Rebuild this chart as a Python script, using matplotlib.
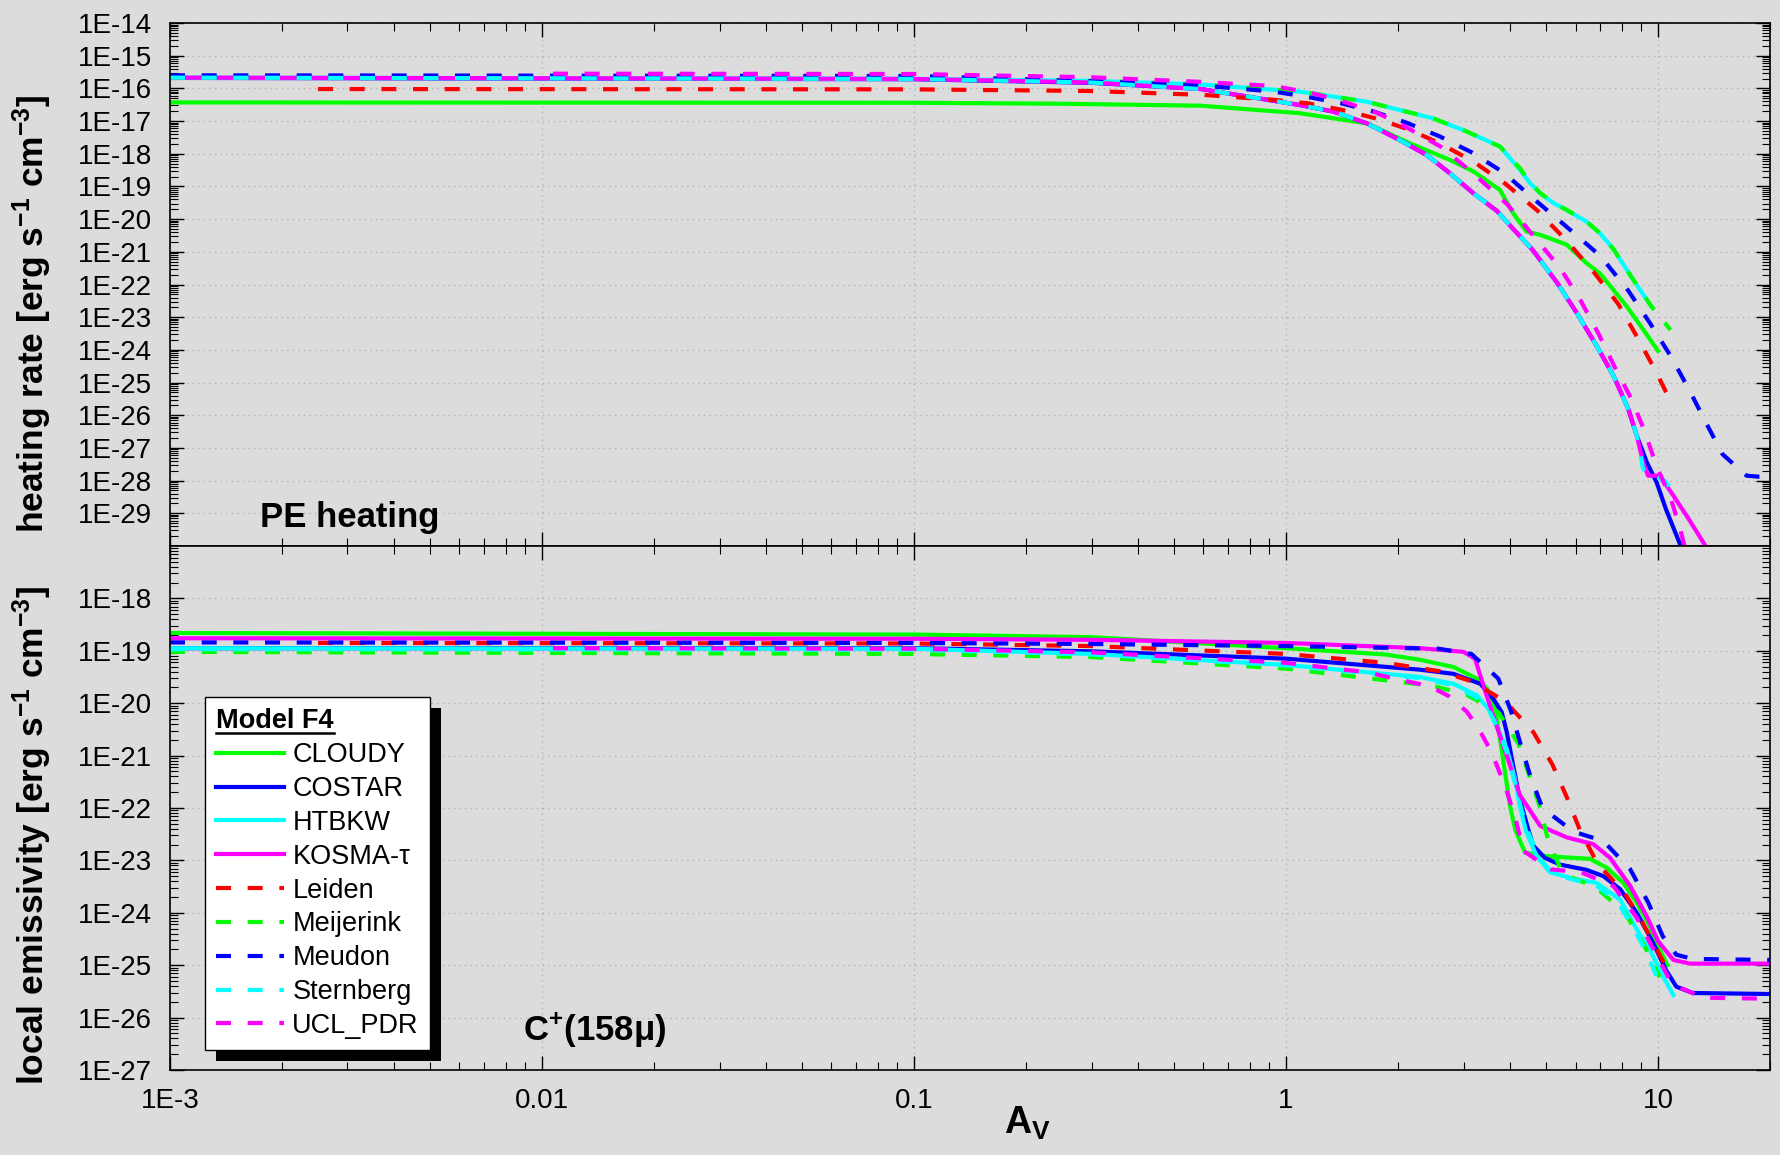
import matplotlib
matplotlib.use("Agg")
import matplotlib.pyplot as plt
import numpy as np
from matplotlib.patches import Rectangle
from matplotlib.lines import Line2D
from matplotlib.transforms import IdentityTransform
from matplotlib.ticker import FixedLocator, LogLocator, FuncFormatter, NullFormatter

plt.rcParams["font.family"] = ["Liberation Sans", "DejaVu Sans"]
plt.rcParams["mathtext.fontset"] = "custom"
plt.rcParams["mathtext.rm"] = "Liberation Sans"
plt.rcParams["mathtext.bf"] = "Liberation Sans:bold"
plt.rcParams["mathtext.it"] = "Liberation Sans:italic"

# --- data: A_V and log10(value) ---------------------------------------------
models = ["CLOUDY", "COSTAR", "HTBKW", "KOSMA-τ", "Leiden",
          "Meijerink", "Meudon", "Sternberg", "UCL_PDR"]
colors = ["#00ff00", "#0000ff", "#00ffff", "#ff00ff", "#ff0000",
          "#00ff00", "#0000ff", "#00ffff", "#ff00ff"]
dashed = [False, False, False, False, True, True, True, True, True]

# PE heating rate [erg s^-1 cm^-3]
cloudy_heat_av = [0.001, 0.1, 0.25, 0.59, 1.09, 1.65, 2.15, 2.76, 3.2, 3.76, 4.08,
                  4.43, 4.82, 5.68, 6.43, 6.98, 8.24, 9.14, 10.0]
cloudy_heat = [-16.43, -16.44, -16.47, -16.53, -16.76, -17.07, -17.68, -18.19, -18.55,
               -19.11, -19.82, -20.38, -20.48, -20.78, -21.35, -21.66, -22.67, -23.39, -24.03]

costar_heat_av = [0.001, 0.1, 0.3, 0.59, 1.09, 1.34, 1.65, 2.02, 2.39, 2.76, 3.19, 3.69,
                  4.08, 4.6, 5.35, 6.04, 6.84, 7.59, 8.32, 8.77, 9.33, 9.92, 10.5, 11.5, 11.8]
costar_heat = [-15.68, -15.72, -15.83, -16.02, -16.51, -16.71, -17.07, -17.58, -18.04, -18.6,
               -19.21, -19.75, -20.3, -20.94, -21.94, -22.86, -23.88, -24.79, -25.81, -26.63,
               -27.44, -28.06, -28.87, -29.99, -30.3]

htbkw_heat_av = [0.001, 0.1, 0.3, 0.59, 1.09, 1.34, 1.65, 2.02, 2.49, 3.06, 3.76, 4.26,
                 4.53, 4.82, 5.24, 5.68, 6.43, 6.98, 7.59, 8.7, 9.6]
htbkw_heat = [-15.67, -15.71, -15.77, -15.88, -16.10, -16.25, -16.41, -16.66, -16.92, -17.32,
              -17.78, -18.5, -18.9, -19.21, -19.51, -19.72, -20.08, -20.43, -20.92, -21.96, -22.67]

kosma_heat_av = [0.001, 0.1, 0.3, 0.59, 1.09, 1.34, 1.65, 2.02, 2.39, 2.76, 3.19, 3.69,
                 4.08, 4.6, 5.35, 6.04, 6.84, 7.59, 8.32, 8.77, 9.12, 9.4, 10.1, 11.0, 12.1,
                 13.4, 13.8]
kosma_heat = [-15.67, -15.71, -15.82, -16.02, -16.51, -16.71, -17.07, -17.58, -18.04, -18.6,
              -19.21, -19.75, -20.3, -20.94, -21.94, -22.86, -23.88, -24.79, -25.81, -26.63,
              -27.44, -27.85, -27.85, -28.46, -29.18, -29.99, -30.3]

leiden_heat_av = [0.0025, 0.1, 0.3, 0.6, 0.93, 1.15, 1.42, 1.73, 2.13, 2.59, 3.19, 3.89,
                  4.74, 5.71, 6.75, 7.82, 8.85, 9.88, 10.9]
leiden_heat = [-16.02, -16.03, -16.08, -16.2, -16.35, -16.46, -16.66, -16.91, -17.25, -17.68,
               -18.24, -18.92, -19.74, -20.69, -21.65, -22.60, -23.67, -24.67, -25.66]

meijerink_heat_av = [0.001, 0.1, 0.3, 0.59, 1.09, 1.34, 1.65, 2.02, 2.49, 3.06, 3.76, 4.26,
                     4.53, 4.82, 5.24, 5.68, 6.43, 6.98, 7.59, 8.7, 9.6, 10.2, 10.8]
meijerink_heat = [-15.66, -15.70, -15.77, -15.88, -16.10, -16.25, -16.41, -16.66, -16.92,
                  -17.32, -17.78, -18.45, -18.88, -19.2, -19.5, -19.72, -20.08, -20.43, -20.92,
                  -21.96, -22.67, -23.03, -23.39]

meudon_heat_av = [0.001, 0.1, 0.3, 0.59, 0.93, 1.14, 1.40, 1.72, 2.11, 2.59, 3.16, 3.84,
                  4.70, 5.74, 6.99, 8.32, 9.55, 10.8, 12.1, 13.4, 14.9, 17.3, 18.7, 20.0]
meudon_heat = [-15.60, -15.62, -15.78, -15.91, -16.10, -16.26, -16.45, -16.71, -17.05, -17.47,
               -17.96, -18.57, -19.44, -20.28, -21.12, -22.19, -23.21, -24.18, -25.2, -26.19,
               -27.19, -27.85, -27.88, -27.88]

sternberg_heat_av = [0.001, 0.1, 0.3, 0.59, 1.09, 1.34, 1.65, 2.02, 2.39, 2.76, 3.19, 3.69,
                     4.08, 4.6, 5.35, 6.04, 6.84, 7.59, 8.32, 8.77, 8.96, 9.1, 9.3, 9.8, 10.4,
                     11.1]
sternberg_heat = [-15.67, -15.71, -15.82, -16.02, -16.51, -16.71, -17.07, -17.58, -18.04, -18.6,
                  -19.21, -19.75, -20.3, -20.94, -21.94, -22.86, -23.88, -24.79, -25.81,
                  -26.63, -27.16, -27.6, -27.85, -27.87, -28.0, -28.35]

ucl_heat_av = [0.0107, 0.1, 0.3, 0.59, 0.93, 1.16, 1.43, 1.75, 2.13, 2.62, 3.2, 3.92, 4.64,
               5.46, 6.2, 6.93, 7.66, 8.49, 9.22, 9.9, 10.8, 11.5, 11.9]
ucl_heat = [-15.55, -15.56, -15.66, -15.80, -15.93, -16.13, -16.41, -16.74, -17.22, -17.80,
            -18.62, -19.53, -20.53, -21.5, -22.5, -23.52, -24.54, -25.51, -26.51, -27.55,
            -28.51, -29.53, -30.2]

# C+ 158 micron local emissivity [erg s^-1 cm^-3]
cloudy_em_av = [0.001, 0.1, 0.3, 1.0, 1.85, 2.29, 2.82, 3.26, 3.47, 3.65, 3.76, 3.88, 4.0,
                4.13, 4.39, 5.02, 6.56, 7.28, 8.07, 8.77, 9.51, 10.0, 10.6]
cloudy_em = [-18.66, -18.69, -18.74, -18.95, -19.07, -19.17, -19.31, -19.53, -19.72, -20.11,
             -20.68, -21.32, -21.96, -22.41, -22.85, -22.92, -22.97, -23.14, -23.43, -23.81,
             -24.26, -24.64, -25.0]

costar_em_av = [0.001, 0.1, 0.3, 1.0, 2.29, 2.82, 3.33, 3.61, 3.80, 3.92, 4.08, 4.25, 4.48,
                4.62, 4.96, 5.45, 6.42, 7.13, 7.91, 8.77, 9.71, 10.5, 11.2, 12.4, 20.0]
costar_em = [-18.95, -18.95, -19.01, -19.15, -19.36, -19.44, -19.63, -19.92, -20.17, -20.55,
             -21.19, -21.83, -22.41, -22.72, -22.95, -23.08, -23.18, -23.30, -23.55, -24.0,
             -24.58, -25.09, -25.41, -25.53, -25.55]

htbkw_em_av = [0.001, 0.1, 0.3, 1.0, 2.29, 2.82, 3.26, 3.50, 3.68, 3.92, 4.13, 4.25, 4.42,
               4.72, 5.13, 6.04, 6.84, 7.91, 8.77, 9.51, 10.2, 11.0]
htbkw_em = [-18.95, -18.96, -19.06, -19.27, -19.50, -19.63, -19.85, -20.11, -20.43, -20.87,
            -21.45, -21.96, -22.45, -22.92, -23.23, -23.36, -23.43, -23.75, -24.32, -24.70,
            -25.15, -25.57]

kosma_em_av = [0.001, 0.1, 0.3, 1.0, 2.29, 3.0, 3.22, 3.46, 3.68, 3.92, 4.25, 4.82, 5.68,
               6.7, 7.43, 8.42, 9.33, 10.0, 11.0, 12.2, 20.0]
kosma_em = [-18.76, -18.77, -18.79, -18.85, -18.95, -19.02, -19.15, -19.85, -20.43, -21.0,
            -21.75, -22.34, -22.56, -22.69, -22.95, -23.49, -24.07, -24.54, -24.9, -24.97,
            -24.97]

leiden_em_av = [0.0025, 0.1, 0.3, 1.0, 1.85, 2.59, 3.15, 3.89, 4.62, 5.2, 5.69, 6.15, 6.87,
                8.15, 9.14, 10.2, 10.6]
leiden_em = [-18.85, -18.86, -18.91, -19.06, -19.23, -19.39, -19.58, -19.97, -20.55, -21.17,
             -21.80, -22.4, -23.06, -23.63, -24.22, -24.86, -25.1]

meijerink_em_av = [0.001, 0.1, 0.3, 1.0, 2.49, 3.06, 3.72, 4.22, 4.8, 5.07, 5.56, 6.77,
                   8.15, 9.16, 10.1]
meijerink_em = [-19.02, -19.06, -19.12, -19.34, -19.67, -19.84, -20.17, -20.78, -21.95,
                -22.63, -23.27, -23.50, -24.0, -24.61, -25.23]

meudon_em_av = [0.001, 0.1, 0.3, 1.0, 2.57, 3.15, 3.72, 4.02, 4.27, 4.55, 4.89, 5.92, 7.13,
                8.42, 9.42, 10.3, 11.2, 12.4, 20.0]
meudon_em = [-18.84, -18.85, -18.87, -18.91, -18.96, -19.06, -19.53, -20.14, -20.78, -21.42,
             -22.0, -22.45, -22.63, -23.17, -23.81, -24.45, -24.8, -24.88, -24.9]

sternberg_em_av = [0.001, 0.1, 0.3, 1.0, 2.29, 2.82, 3.26, 3.55, 3.75, 3.95, 4.15, 4.3, 4.5,
                   4.8, 5.2, 6.0, 6.8, 7.8, 8.6, 9.3, 9.9]
sternberg_em = [-18.97, -18.98, -19.07, -19.28, -19.52, -19.66, -19.9, -20.2, -20.55, -21.0,
                -21.6, -22.05, -22.5, -22.95, -23.25, -23.38, -23.47, -23.8, -24.3, -24.75,
                -25.2]

ucl_em_av = [0.0107, 0.1, 0.3, 1.0, 1.65, 2.44, 2.73, 3.06, 3.28, 3.57, 3.88, 4.13, 4.35,
             5.14, 6.23, 7.59, 8.74, 10.9, 13.2, 20.0]
ucl_em = [-18.95, -18.96, -19.03, -19.23, -19.41, -19.68, -19.86, -20.16, -20.46, -20.94,
          -21.58, -22.18, -22.82, -23.17, -23.23, -23.49, -24.08, -25.36, -25.62, -25.64]

heat_series = [(cloudy_heat_av, cloudy_heat), (costar_heat_av, costar_heat),
               (htbkw_heat_av, htbkw_heat), (kosma_heat_av, kosma_heat),
               (leiden_heat_av, leiden_heat), (meijerink_heat_av, meijerink_heat),
               (meudon_heat_av, meudon_heat), (sternberg_heat_av, sternberg_heat),
               (ucl_heat_av, ucl_heat)]
em_series = [(cloudy_em_av, cloudy_em), (costar_em_av, costar_em),
             (htbkw_em_av, htbkw_em), (kosma_em_av, kosma_em),
             (leiden_em_av, leiden_em), (meijerink_em_av, meijerink_em),
             (meudon_em_av, meudon_em), (sternberg_em_av, sternberg_em),
             (ucl_em_av, ucl_em)]

heat_ticks = [10.0 ** e for e in range(-29, -13)]
em_ticks = [10.0 ** e for e in range(-27, -17)]
av_ticks = [1e-3, 1e-2, 1e-1, 1, 10]
av_labels = ["1E-3", "0.01", "0.1", "1", "10"]

# --- figure -----------------------------------------------------------------
bg = "#dcdcdc"
fig = plt.figure(figsize=(17.8, 11.55), dpi=100, facecolor=bg)
ax1 = fig.add_axes([0.09551, 0.52727, 0.89888, 0.45281])
ax2 = fig.add_axes([0.09551, 0.07359, 0.89888, 0.45368])

dash = (0, (3.6, 4.0))
for ax, series in ((ax1, heat_series), (ax2, em_series)):
    for name, col, dsh, (av, val) in zip(models, colors, dashed, series):
        ax.plot(av, 10.0 ** np.array(val), color=col, lw=3,
                linestyle=dash if dsh else "-", label=name)

ylab = FuncFormatter(lambda v, pos: "1E%d" % round(np.log10(v)))
for ax, yt in ((ax1, heat_ticks), (ax2, em_ticks)):
    # scales first: setting a scale resets the locators
    ax.set_xscale("log")
    ax.set_yscale("log")
    ax.set_xlim(1e-3, 20)
    ax.set_facecolor(bg)
    ax.xaxis.set_major_locator(FixedLocator(av_ticks))
    ax.yaxis.set_major_locator(FixedLocator(yt))
    ax.xaxis.set_minor_locator(LogLocator(base=10, subs=np.arange(2, 10), numticks=100))
    ax.yaxis.set_minor_locator(LogLocator(base=10, subs=np.arange(2, 10), numticks=100))
    ax.xaxis.set_minor_formatter(NullFormatter())
    ax.yaxis.set_minor_formatter(NullFormatter())
    ax.yaxis.set_major_formatter(ylab)
    ax.tick_params(which="both", direction="in", top=True, right=True,
                   labelsize=20, pad=13)
    ax.tick_params(which="major", length=10, width=1)
    ax.tick_params(which="minor", length=5.5, width=0.8)
    ax.grid(True, which="major", color="#b4b4b4", linestyle=(0, (1, 3)), linewidth=1)
    for sp in ax.spines.values():
        sp.set_linewidth(1.2)

ax1.set_ylim(1e-30, 1e-14)
ax2.set_ylim(1e-27, 1e-17)
ax1.xaxis.set_major_formatter(NullFormatter())
ax2.xaxis.set_major_formatter(FuncFormatter(lambda v, pos: av_labels[pos]))

ax1.set_ylabel(r"heating rate [erg s$^{\mathbf{-1}}$ cm$^{\mathbf{-3}}$]",
               fontsize=25.5, fontweight="bold")
ax2.set_ylabel(r"local emissivity [erg s$^{\mathbf{-1}}$ cm$^{\mathbf{-3}}$]",
               fontsize=25.5, fontweight="bold")
ax1.yaxis.set_label_coords(-0.0725, 0.444)
ax2.yaxis.set_label_coords(-0.0725, 0.447)
ax2.set_xlabel(r"$\mathbf{A}_{\mathbf{V}}$", fontsize=27)
ax2.xaxis.set_label_coords(0.536, -0.066)

ax1.text(0.056, 0.036, "PE heating", transform=ax1.transAxes, fontsize=25,
         fontweight="bold", va="baseline")
ax2.text(0.2206, 0.057, r"C$^{\mathbf{+}}$(158μ)", transform=ax2.transAxes,
         fontsize=25, fontweight="bold", va="baseline")

handles, labels = ax2.get_legend_handles_labels()
leg = ax2.legend(handles, labels, loc="upper left", bbox_to_anchor=(0.0219, 0.712),
                 borderaxespad=0, title="Model F4",
                 title_fontproperties={"weight": "bold", "size": 19.5},
                 fontsize=19.5, fancybox=False, edgecolor="black", facecolor="white",
                 framealpha=1, handlelength=2.5, handletextpad=0.3,
                 labelspacing=0.29, borderpad=0.42, alignment="left")
leg.get_frame().set_linewidth(1.0)

# black drop shadow and underlined title, placed from the drawn legend
fig.canvas.draw()
renderer = fig.canvas.get_renderer()
fb = leg.get_frame().get_window_extent(renderer)
shadow = Rectangle((fb.x0 + 11, fb.y0 - 11), fb.width, fb.height,
                   transform=IdentityTransform(), facecolor="black",
                   edgecolor="none", zorder=leg.get_zorder() - 0.1, clip_on=False)
ax2.add_artist(shadow)
tb = leg.get_title().get_window_extent(renderer)
fig.add_artist(Line2D([tb.x0, tb.x1], [tb.y0 + 1, tb.y0 + 1], color="black",
                      lw=1.8, transform=IdentityTransform()))

fig.savefig("out.png", dpi=100, facecolor=bg)
